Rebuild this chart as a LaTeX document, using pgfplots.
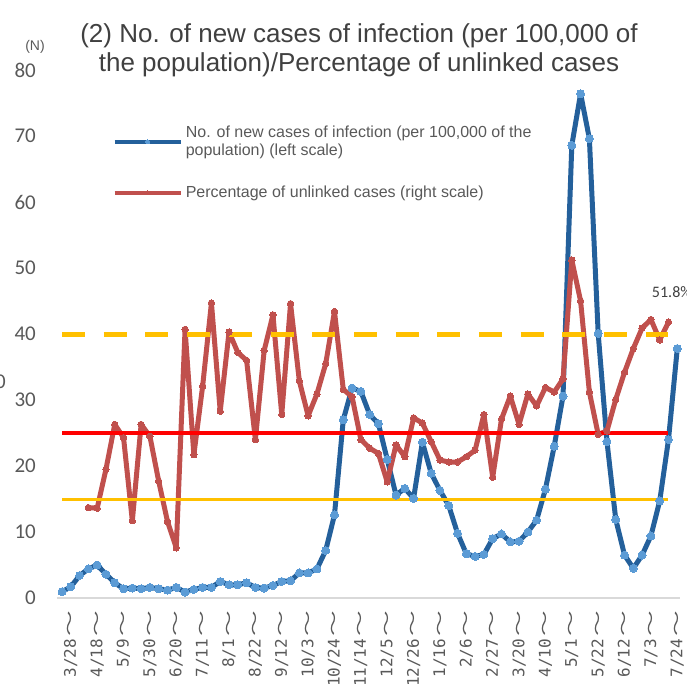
\documentclass[border=0pt]{standalone}
\usepackage{graphicx}
\usepackage{pgfplots}
\usepackage{pgfplotstable}
\pgfplotsset{compat=1.18}
\usepackage{fontspec}
\setmainfont{Liberation Sans}
\newfontfamily\carlito{Carlito}
\newfontfamily\jpfont{Noto Sans CJK JP}
\newfontfamily\monofont{DejaVu Sans Mono}

\definecolor{blueline}{HTML}{24609B}
\definecolor{bluemark}{HTML}{5B9BD5}
\definecolor{redline}{HTML}{C0504D}
\definecolor{gold}{HTML}{FFC000}
\definecolor{purered}{HTML}{FF0000}
\definecolor{tickgray}{HTML}{595959}
\definecolor{titlegray}{HTML}{404040}
\definecolor{axisgray}{HTML}{D9D9D9}

\newcommand{\wave}{\hspace{2bp}\scalebox{1.6}[1]{\jpfont\fontsize{16bp}{16bp}\selectfont ～}}

% weekly new cases per 100,000 (left scale); week 0 = 3/21
\pgfplotstableread{
j v
0 0.95
1 1.7
2 3.4
3 4.4
4 5.0
5 3.6
6 2.3
7 1.4
8 1.5
9 1.4
10 1.6
11 1.4
12 1.2
13 1.6
14 0.9
15 1.3
16 1.6
17 1.6
18 2.5
19 2.0
20 2.0
21 2.3
22 1.6
23 1.5
24 1.9
25 2.5
26 2.6
27 3.8
28 3.8
29 4.4
30 7.2
31 12.6
32 27.0
33 31.8
34 31.3
35 27.8
36 26.4
37 21.0
38 15.6
39 16.6
40 15.1
41 23.6
42 18.9
43 16.3
44 14.0
45 9.8
46 6.7
47 6.3
48 6.6
49 9.0
50 9.7
51 8.5
52 8.6
53 10.0
54 11.8
55 16.5
56 23.0
57 30.6
58 68.6
59 76.4
60 69.6
61 40.1
62 23.7
63 11.9
64 6.5
65 4.5
66 6.5
67 9.4
68 14.7
69 24.0
70 37.8
}\newcases

% percentage of unlinked cases, drawn in left-scale units
\pgfplotstableread{
j v
3 13.7
4 13.6
5 19.5
6 26.3
7 24.3
8 11.7
9 26.3
10 24.5
11 17.7
12 11.6
13 7.6
14 40.7
15 21.7
16 32.1
17 44.7
18 28.3
19 40.3
20 37.2
21 36.0
22 24.0
23 37.5
24 42.9
25 27.8
26 44.6
27 32.9
28 27.6
29 30.9
30 35.5
31 43.4
32 31.6
33 30.5
34 24.0
35 22.7
36 21.9
37 17.6
38 23.2
39 21.4
40 27.3
41 26.5
42 23.7
43 20.9
44 20.6
45 20.6
46 21.4
47 22.4
48 27.8
49 18.3
50 27.1
51 30.6
52 26.3
53 30.9
54 29.1
55 31.9
56 31.2
57 33.2
58 51.2
59 45.0
60 31.2
61 24.8
62 25.3
63 30.1
64 34.2
65 37.8
66 40.9
67 42.2
68 39.1
69 41.8
}\unlinked

\begin{document}
\begin{tikzpicture}
\useasboundingbox (0,0) rectangle (687bp,684bp);

\node[align=center, text=titlegray, font=\fontsize{26bp}{29bp}\selectfont]
  at (359bp,634bp) {(2) No. of new cases of infection (per 100,000 of\\the population)/Percentage of unlinked cases};
\node[text=tickgray, font=\fontsize{14bp}{14bp}\selectfont] at (35bp,637bp) {(N)};
\node[anchor=east, inner sep=0, text=tickgray, font=\carlito\fontsize{21bp}{21bp}\selectfont] at (6bp,302bp) {0};

\begin{axis}[
    at={(57bp,86bp)}, anchor=south west,
    scale only axis, width=623bp, height=528bp,
    xmin=-0.57, xmax=70.31, ymin=0, ymax=80,
    clip=false,
    axis x line*=bottom, axis y line*=left,
    x axis line style={-, draw=axisgray, line width=1.5bp},
    y axis line style={draw=none},
    major tick length=0pt,
    ytick={0,10,...,80},
    /pgf/number format/assume math mode=true,
    yticklabel style={anchor=east, inner sep=0pt, xshift=-21bp, text=tickgray,
        font=\carlito\fontsize{21bp}{21bp}\selectfont},
    xtick={1,4,...,70},
    xticklabels={3/28\wave,4/18\wave,5/9\wave,5/30\wave,6/20\wave,7/11\wave,8/1\wave,8/22\wave,
        9/12\wave,10/3\wave,10/24\wave,11/14\wave,12/5\wave,12/26\wave,1/16\wave,2/6\wave,
        2/27\wave,3/20\wave,4/10\wave,5/1\wave,5/22\wave,6/12\wave,7/3\wave,7/24\wave},
    xticklabel style={yshift=-13bp, rotate=90, anchor=east, inner sep=0pt, text=tickgray,
        font=\monofont\fontsize{16bp}{16bp}\selectfont},
    legend style={at={(axis cs:5.7,71.5)}, anchor=north west, draw=none, fill=none,
        inner sep=0pt, column sep=3bp, row sep=29bp,
        font=\fontsize{16bp}{18bp}\selectfont,
        nodes={align=left, text=tickgray, inner sep=0pt}},
    legend cell align=left,
    legend image code/.code={
        \draw[#1, line width=4.5bp, mark size=2bp, mark repeat=2, mark phase=2]
            plot coordinates {(0bp,0bp) (33bp,0bp) (66bp,0bp)};},
]
\addplot[blueline, line width=5bp, line join=round, mark=*, mark size=4bp,
    mark options={fill=bluemark, draw=bluemark, line width=0pt}]
    table[x=j, y=v] {\newcases};
\addlegendentry{No. of new cases of infection (per 100,000 of the\\population) (left scale)}
\addplot[redline, line width=5bp, line join=round, mark=*, mark size=3.2bp,
    mark options={fill=redline, draw=redline, line width=0pt}]
    table[x=j, y=v] {\unlinked};
\addlegendentry{Percentage of unlinked cases (right scale)}

\addplot[gold, line width=5bp, dash pattern=on 23bp off 18.7bp, forget plot]
    coordinates {(0,40) (69,40)};
\addplot[purered, line width=3.5bp, forget plot] coordinates {(0,25) (69,25)};
\addplot[gold, line width=3bp, forget plot] coordinates {(0,15) (69,15)};

\node[anchor=west, inner sep=0pt, text=titlegray, font=\carlito\fontsize{16bp}{16bp}\selectfont]
    at (axis cs:67.1,46.3) {51.8\%};
\end{axis}
\end{tikzpicture}
\end{document}
